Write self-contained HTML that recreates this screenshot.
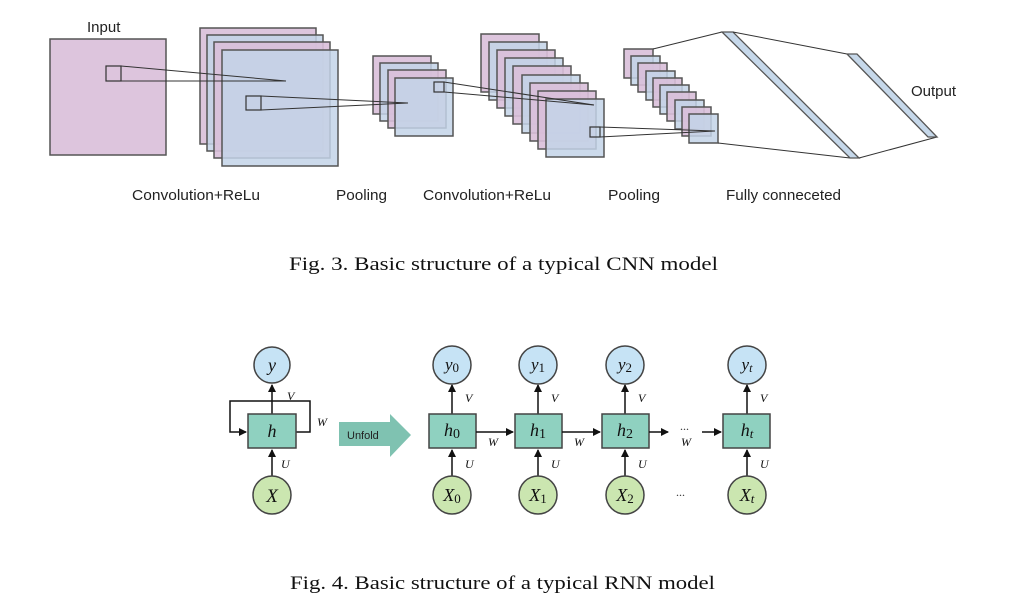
<!DOCTYPE html>
<html><head><meta charset="utf-8"><style>
html,body{margin:0;padding:0;background:#fff;}
svg{display:block;}
.p{fill:#d9bfd9;fill-opacity:.9;stroke:#555;stroke-width:1.5}
.b{fill:#c3d3e8;fill-opacity:.85;stroke:#555;stroke-width:1.5}
.l{stroke:#333;stroke-width:1;fill:none}
.lab{font-family:"Liberation Sans",sans-serif;font-size:15px;fill:#222}
.cap{font-family:"Liberation Serif",serif;font-size:19px;fill:#111}
.m{font-family:"Liberation Serif",serif;font-style:italic;fill:#111}
.c1{fill:#c6e3f5;stroke:#444;stroke-width:1.5}
.c2{fill:#cbe6b0;stroke:#444;stroke-width:1.5}
.hb{fill:#8fd1c0;stroke:#444;stroke-width:1.5}
.a{stroke:#111;stroke-width:1.5;fill:none;marker-end:url(#ah)}
</style></head><body>
<svg width="1030" height="604" viewBox="0 0 1030 604" xmlns="http://www.w3.org/2000/svg">
<defs><marker id="ah" markerWidth="8" markerHeight="8" refX="7" refY="4" orient="auto" markerUnits="userSpaceOnUse"><path d="M0,0 L8,4 L0,8 z" fill="#111"/></marker></defs>
<!-- CNN -->
<text x="87" y="32" class="lab">Input</text>
<rect x="50" y="39" width="116" height="116" class="p" fill-opacity="1"/>
<rect x="106" y="66" width="15" height="15" fill="none" stroke="#333" stroke-width="1.2"/>
<rect x="200" y="28" width="116" height="116" class="p"/>
<rect x="207" y="35" width="116" height="116" class="b"/>
<rect x="214" y="42" width="116" height="116" class="p"/>
<rect x="222" y="50" width="116" height="116" class="b"/>
<line x1="121" y1="66" x2="286" y2="81" class="l"/><line x1="121" y1="81" x2="286" y2="81" class="l"/>
<rect x="246" y="96" width="15" height="14" fill="none" stroke="#333" stroke-width="1.2"/>
<rect x="373" y="56" width="58" height="58" class="p"/>
<rect x="380" y="63" width="58" height="58" class="b"/>
<rect x="388" y="70" width="58" height="58" class="p"/>
<rect x="395" y="78" width="58" height="58" class="b"/>
<line x1="261" y1="96" x2="408" y2="103" class="l"/><line x1="261" y1="110" x2="408" y2="103" class="l"/>
<rect x="434" y="82" width="10" height="10" fill="none" stroke="#333" stroke-width="1.2"/>
<rect x="481" y="34" width="58" height="58" class="p"/>
<rect x="489" y="42" width="58" height="58" class="b"/>
<rect x="497" y="50" width="58" height="58" class="p"/>
<rect x="505" y="58" width="58" height="58" class="b"/>
<rect x="513" y="66" width="58" height="58" class="p"/>
<rect x="522" y="75" width="58" height="58" class="b"/>
<rect x="530" y="83" width="58" height="58" class="p"/>
<rect x="538" y="91" width="58" height="58" class="p"/>
<rect x="546" y="99" width="58" height="58" class="b"/>
<line x1="444" y1="82" x2="594" y2="105" class="l"/><line x1="444" y1="92" x2="594" y2="105" class="l"/>
<rect x="590" y="127" width="10" height="10" fill="none" stroke="#333" stroke-width="1.2"/>
<rect x="624" y="49" width="29" height="29" class="p"/>
<rect x="631" y="56" width="29" height="29" class="b"/>
<rect x="638" y="63" width="29" height="29" class="p"/>
<rect x="646" y="71" width="29" height="29" class="b"/>
<rect x="653" y="78" width="29" height="29" class="p"/>
<rect x="660" y="85" width="29" height="29" class="b"/>
<rect x="667" y="92" width="29" height="29" class="p"/>
<rect x="675" y="100" width="29" height="29" class="b"/>
<rect x="682" y="107" width="29" height="29" class="p"/>
<rect x="689" y="114" width="29" height="29" class="b"/>
<line x1="600" y1="127" x2="715" y2="131" class="l"/><line x1="600" y1="137" x2="715" y2="131" class="l"/>
<line x1="653" y1="49" x2="722" y2="32" class="l"/>
<line x1="718" y1="143" x2="850" y2="158" class="l"/>
<polygon points="722,32 733,32 859,158 850,158" fill="#c6d8ea" stroke="#555" stroke-width="1.3"/>
<line x1="733" y1="32" x2="847" y2="54" class="l"/>
<line x1="859" y1="158" x2="937" y2="137" class="l"/>
<polygon points="847,54 857,54 937,137 928,137" fill="#c6d8ea" stroke="#555" stroke-width="1.3"/>
<text x="911" y="96" class="lab">Output</text>
<text x="132" y="200" class="lab" textLength="128" lengthAdjust="spacingAndGlyphs">Convolution+ReLu</text>
<text x="336" y="200" class="lab" textLength="51" lengthAdjust="spacingAndGlyphs">Pooling</text>
<text x="423" y="200" class="lab" textLength="128" lengthAdjust="spacingAndGlyphs">Convolution+ReLu</text>
<text x="608" y="200" class="lab" textLength="52" lengthAdjust="spacingAndGlyphs">Pooling</text>
<text x="726" y="200" class="lab" textLength="115" lengthAdjust="spacingAndGlyphs">Fully conneceted</text>
<text x="289" y="270" class="cap" textLength="429" lengthAdjust="spacingAndGlyphs">Fig. 3.  Basic structure of a typical CNN model</text>
<!-- RNN -->
<line x1="272" y1="414" x2="272" y2="385" class="a"/>
<line x1="272" y1="476" x2="272" y2="450" class="a"/>
<polyline points="296,432 310,432 310,401 230,401 230,432 246,432" class="a"/>
<circle cx="272" cy="365" r="18" class="c1"/><text x="272" y="371" class="m" font-size="18" text-anchor="middle">y</text>
<rect x="248" y="414" width="48" height="34" class="hb"/><text x="272" y="437" class="m" font-size="18" text-anchor="middle">h</text>
<circle cx="272" cy="495" r="19" class="c2"/><text x="272" y="502" class="m" font-size="19" text-anchor="middle">X</text>
<text x="287" y="400" class="m" font-size="12">V</text>
<text x="317" y="426" class="m" font-size="12">W</text>
<text x="281" y="468" class="m" font-size="12">U</text>
<polygon points="339,422 390,422 390,414 411,435 390,457 390,446 339,446" fill="#7fc2b1"/>
<text x="347" y="439" font-family="Liberation Sans,sans-serif" font-size="11" fill="#222">Unfold</text>
<!-- cell 0 -->
<line x1="452" y1="414" x2="452" y2="385" class="a"/><line x1="452" y1="476" x2="452" y2="450" class="a"/>
<circle cx="452" cy="365" r="19" class="c1"/><text x="452" y="370" class="m" font-size="17" text-anchor="middle">y<tspan font-style="normal" font-size="13" dy="2">0</tspan></text>
<rect x="429" y="414" width="47" height="34" class="hb"/><text x="452" y="436" class="m" font-size="18" text-anchor="middle">h<tspan font-style="normal" font-size="14" dy="2">0</tspan></text>
<circle cx="452" cy="495" r="19" class="c2"/><text x="452" y="501" class="m" font-size="18" text-anchor="middle">X<tspan font-style="normal" font-size="13" dy="2">0</tspan></text>
<text x="465" y="402" class="m" font-size="12">V</text><text x="465" y="468" class="m" font-size="12">U</text>
<!-- cell 1 -->
<line x1="538" y1="414" x2="538" y2="385" class="a"/><line x1="538" y1="476" x2="538" y2="450" class="a"/>
<circle cx="538" cy="365" r="19" class="c1"/><text x="538" y="370" class="m" font-size="17" text-anchor="middle">y<tspan font-style="normal" font-size="13" dy="2">1</tspan></text>
<rect x="515" y="414" width="47" height="34" class="hb"/><text x="538" y="436" class="m" font-size="18" text-anchor="middle">h<tspan font-style="normal" font-size="14" dy="2">1</tspan></text>
<circle cx="538" cy="495" r="19" class="c2"/><text x="538" y="501" class="m" font-size="18" text-anchor="middle">X<tspan font-style="normal" font-size="13" dy="2">1</tspan></text>
<text x="551" y="402" class="m" font-size="12">V</text><text x="551" y="468" class="m" font-size="12">U</text>
<!-- cell 2 -->
<line x1="625" y1="414" x2="625" y2="385" class="a"/><line x1="625" y1="476" x2="625" y2="450" class="a"/>
<circle cx="625" cy="365" r="19" class="c1"/><text x="625" y="370" class="m" font-size="17" text-anchor="middle">y<tspan font-style="normal" font-size="13" dy="2">2</tspan></text>
<rect x="602" y="414" width="47" height="34" class="hb"/><text x="625" y="436" class="m" font-size="18" text-anchor="middle">h<tspan font-style="normal" font-size="14" dy="2">2</tspan></text>
<circle cx="625" cy="495" r="19" class="c2"/><text x="625" y="501" class="m" font-size="18" text-anchor="middle">X<tspan font-style="normal" font-size="13" dy="2">2</tspan></text>
<text x="638" y="402" class="m" font-size="12">V</text><text x="638" y="468" class="m" font-size="12">U</text>
<!-- cell t -->
<line x1="747" y1="414" x2="747" y2="385" class="a"/><line x1="747" y1="476" x2="747" y2="450" class="a"/>
<circle cx="747" cy="365" r="19" class="c1"/><text x="747" y="370" class="m" font-size="17" text-anchor="middle">y<tspan font-size="12" dy="2">t</tspan></text>
<rect x="723" y="414" width="47" height="34" class="hb"/><text x="747" y="436" class="m" font-size="18" text-anchor="middle">h<tspan font-size="13" dy="2">t</tspan></text>
<circle cx="747" cy="495" r="19" class="c2"/><text x="747" y="501" class="m" font-size="18" text-anchor="middle">X<tspan font-size="13" dy="2">t</tspan></text>
<text x="760" y="402" class="m" font-size="12">V</text><text x="760" y="468" class="m" font-size="12">U</text>
<!-- horizontal -->
<line x1="476" y1="432" x2="513" y2="432" class="a"/>
<line x1="562" y1="432" x2="600" y2="432" class="a"/>
<line x1="649" y1="432" x2="668" y2="432" class="a"/>
<line x1="702" y1="432" x2="721" y2="432" class="a"/>
<text x="488" y="446" class="m" font-size="12">W</text>
<text x="574" y="446" class="m" font-size="12">W</text>
<text x="681" y="446" class="m" font-size="12">W</text>
<text x="680" y="430" font-family="Liberation Serif,serif" font-size="12" fill="#333">...</text>
<text x="676" y="496" font-family="Liberation Serif,serif" font-size="12" fill="#333">...</text>
<text x="290" y="589" class="cap" textLength="425" lengthAdjust="spacingAndGlyphs">Fig. 4.  Basic structure of a typical RNN model</text>
</svg>
</body></html>
